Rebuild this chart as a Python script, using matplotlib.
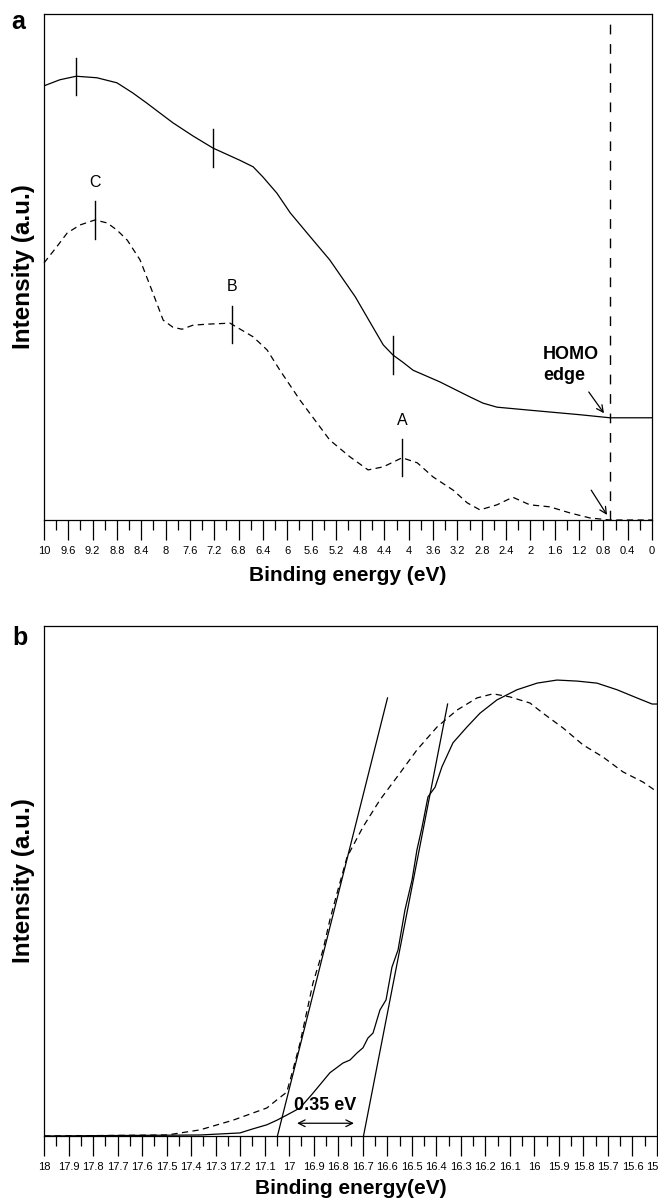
import numpy as np
import matplotlib.pyplot as plt
from matplotlib.ticker import MultipleLocator

plt.rcParams.update({'font.family': ['Liberation Sans', 'DejaVu Sans'], 'font.size': 8,
                     'axes.linewidth': 0.9})

#%%
""" valence band spectra (panel a) """
be_a_solid = [10.0, 9.74, 9.47, 9.13, 8.80, 8.54, 8.31, 8.09, 7.88, 7.55, 7.22, 6.78,
              6.56, 6.40, 6.17, 5.95, 5.63, 5.30, 4.88, 4.59, 4.42, 4.26, 4.10, 3.93,
              3.49, 2.99, 2.78, 2.55, 2.01, 1.18, 0.69, 0.0]
int_a_solid = [85.8, 87.0, 87.7, 87.4, 86.4, 84.4, 82.4, 80.4, 78.5, 75.9, 73.5, 71.1,
               69.8, 67.8, 64.6, 60.7, 56.1, 51.4, 44.1, 38.1, 34.6, 32.6, 31.2, 29.6,
               27.3, 24.3, 23.1, 22.3, 21.7, 20.8, 20.2, 20.2]

be_a_dash = [10.0, 9.79, 9.62, 9.41, 9.16, 8.96, 8.80, 8.63, 8.42, 8.21, 8.04, 7.88,
             7.73, 7.55, 7.32, 6.94, 6.56, 6.33, 6.12, 5.79, 5.30, 4.97, 4.67, 4.42,
             4.11, 3.86, 3.60, 3.27, 3.04, 2.83, 2.55, 2.29, 2.01, 1.68, 1.35, 1.02,
             0.69, 0.0]
int_a_dash = [50.8, 54.0, 56.7, 58.3, 59.3, 58.7, 57.3, 55.3, 51.4, 44.9, 39.5, 38.1,
              37.7, 38.5, 38.7, 38.9, 36.2, 33.6, 29.6, 23.7, 15.8, 12.5, 9.9, 10.5,
              12.3, 11.3, 8.5, 5.9, 3.4, 2.0, 3.0, 4.5, 3.0, 2.6, 1.4, 0.4,
              0.0, 0.0]

peaks_solid = [9.47, 7.22, 4.26]
peaks_dash = [9.16, 6.91, 4.11]
peak_names = ['C', 'B', 'A']
homo_edge = 0.69

#%%
""" secondary electron cut-off (panel b) """
be_b_solid = [18.0, 17.364, 17.201, 17.148, 17.091, 17.050, 17.010, 16.956, 16.903,
              16.834, 16.781, 16.752, 16.723, 16.699, 16.679, 16.658, 16.630, 16.605,
              16.581, 16.556, 16.528, 16.499, 16.479, 16.458, 16.434, 16.405, 16.377,
              16.332, 16.275, 16.222, 16.153, 16.071, 15.989, 15.908, 15.826, 15.745,
              15.663, 15.582, 15.520, 15.500]
int_b_solid = [0.0, 0.2, 0.6, 1.4, 2.2, 3.1, 4.1, 5.5, 8.4,
               12.4, 14.3, 14.9, 16.3, 17.3, 19.2, 20.2, 24.7, 26.7,
               33.1, 36.5, 44.3, 50.2, 56.1, 60.6, 66.5, 68.4, 72.4,
               77.1, 80.2, 82.9, 85.5, 87.5, 88.8, 89.4, 89.2, 88.8,
               87.5, 85.9, 84.7, 84.7]

be_b_dash = [18.0, 17.498, 17.364, 17.229, 17.091, 17.050, 17.010, 16.985, 16.956,
             16.903, 16.862, 16.834, 16.805, 16.764, 16.699, 16.630, 16.560, 16.479,
             16.397, 16.316, 16.234, 16.169, 16.100, 16.018, 15.965, 15.883, 15.802,
             15.720, 15.639, 15.557, 15.500]
int_b_dash = [0.0, 0.2, 1.2, 3.1, 5.5, 7.1, 8.6, 12.9, 18.2,
              30.0, 36.5, 42.4, 47.6, 54.7, 60.6, 65.9, 70.4, 75.7,
              80.2, 83.5, 85.9, 86.7, 86.1, 84.9, 82.9, 80.0, 76.7,
              74.3, 71.4, 69.4, 67.5]

# linear extrapolations of the cut-off edges
tangent_1 = ([17.048, 16.599], [0.0, 85.9])
tangent_2 = ([16.697, 16.354], [0.0, 84.7])
shift_label = '0.35 eV'

#%%
fig = plt.figure(figsize=(6.58, 12), dpi=100, facecolor='w')
ax = fig.add_axes([44/658, 1-520/1200, 608/658, 506/1200])
bx = fig.add_axes([44/658, 1-1136/1200, 613/658, 510/1200])

dash = (0, (5, 3.5))

ax.plot(be_a_solid, int_a_solid, 'k-', lw=0.9)
ax.plot(be_a_dash, int_a_dash, color='k', ls=dash, lw=0.9, clip_on=False)
ax.plot([homo_edge, homo_edge], [0, 98.4], color='k', ls=(0, (7, 7)), lw=1.0)

half = 3.7
for e in peaks_solid:
    y0 = np.interp(e, be_a_solid[::-1], int_a_solid[::-1])
    ax.plot([e, e], [y0-half, y0+half], 'k-', lw=1.0)
for e, name in zip(peaks_dash, peak_names):
    y0 = np.interp(e, be_a_dash[::-1], int_a_dash[::-1])
    ax.plot([e, e], [y0-half, y0+half], 'k-', lw=1.0)
    ax.text(e, y0+half+2.2, name, ha='center', va='bottom', fontsize=11.5)

ax.text(1.79, 31.8, 'HOMO', ha='left', va='baseline', fontsize=13, fontweight='bold')
ax.text(1.79, 27.7, 'edge', ha='left', va='baseline', fontsize=13, fontweight='bold')
arr = dict(arrowstyle='->', color='k', lw=0.9, shrinkA=0, shrinkB=0, mutation_scale=12)
ax.annotate('', xy=(0.79, 21.1), xytext=(1.04, 25.3), arrowprops=arr)
ax.annotate('', xy=(0.74, 1.0), xytext=(1.00, 5.9), arrowprops=arr)

ax.set_xlim(10, 0)
ax.set_ylim(0, 100)
ax.xaxis.set_major_locator(MultipleLocator(0.4))
ax.xaxis.set_minor_locator(MultipleLocator(0.2))
ax.xaxis.set_major_formatter(plt.FuncFormatter(lambda v, p: f"{v:.1f}".rstrip('0').rstrip('.')))
ax.set_xlabel("Binding energy (eV)", fontsize=15, fontweight='bold', labelpad=7.5)
ax.set_ylabel("Intensity (a.u.)", fontsize=17.5, fontweight='bold', labelpad=6.5)

#%%
bx.plot(be_b_solid, int_b_solid, 'k-', lw=0.9)
bx.plot(be_b_dash, int_b_dash, color='k', ls=dash, lw=0.9, clip_on=False)
bx.plot(*tangent_1, 'k-', lw=0.9)
bx.plot(*tangent_2, 'k-', lw=0.9)
bx.annotate('', xy=(16.736, 2.5), xytext=(16.968, 2.5),
            arrowprops=dict(arrowstyle='<->', color='k', lw=0.9, shrinkA=0, shrinkB=0,
                            mutation_scale=12))
bx.text(16.854, 5.9, shift_label, ha='center', va='center', fontsize=13, fontweight='bold')

bx.set_xlim(18, 15.5)
bx.set_ylim(0, 100)
bx.xaxis.set_major_locator(MultipleLocator(0.1))
bx.xaxis.set_minor_locator(MultipleLocator(0.05))
bx.xaxis.set_major_formatter(plt.FuncFormatter(lambda v, p: f"{v:.1f}".rstrip('0').rstrip('.')))
bx.set_xlabel("Binding energy(eV)", fontsize=15, fontweight='bold', labelpad=5.5)
bx.set_ylabel("Intensity (a.u.)", fontsize=17.5, fontweight='bold', labelpad=6.5)

for a in (ax, bx):
    a.set_yticks([])
    a.tick_params(axis='x', which='major', direction='out', length=14.4, width=0.9,
                  labelsize=8, pad=4)
    a.tick_params(axis='x', which='minor', direction='out', length=7.5, width=0.9)

fig.text(18/658, 1-22/1200, 'a', ha='center', va='center', fontsize=18, fontweight='bold')
fig.text(20/658, 1-638/1200, 'b', ha='center', va='center', fontsize=18, fontweight='bold')

fig.savefig('out.png', dpi=100)
